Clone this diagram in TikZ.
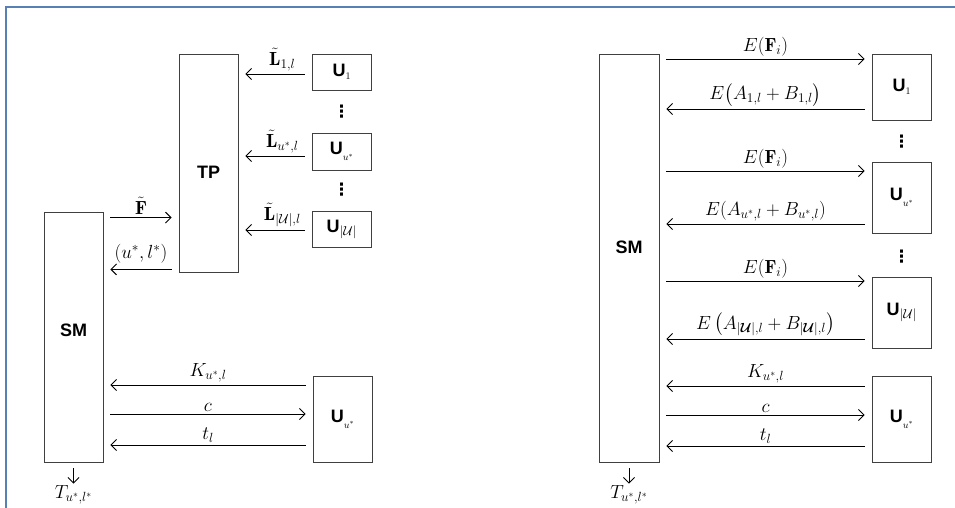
\RequirePackage{fix-cm}
\documentclass[tikz,border=0pt]{standalone}
\usepackage{amsmath,amssymb}
\usepackage{fontspec}
\newfontfamily\boxfont{Liberation Sans}
\newfontfamily\dotfont{DejaVu Sans}
\usetikzlibrary{arrows.meta}
\definecolor{framecol}{RGB}{88,128,178}
\newcommand{\boxlab}[1]{{\fontsize{18}{20}\selectfont\boxfont\bfseries #1}}
\newcommand{\ulab}[3][3pt]{\boxlab{U}\raisebox{-#1}{\fontsize{#3}{#3}\selectfont$#2$}}
\newcommand{\midlab}[2]{\raisebox{#1}[0pt][0pt]{\boxlab{#2}}}

\begin{document}
\begin{tikzpicture}[x=1pt, y=-1pt,
    box/.style={rectangle, draw=black!75, line width=0.8pt, minimum width=59pt, inner sep=0pt},
    arrow/.style={->, >={Straight Barb[length=5.5pt,width=11pt]}, line width=0.9pt, shorten >=7pt, shorten <=7pt},
    lbl/.style={font=\fontsize{19}{21}\selectfont, inner sep=1pt, above=1.5pt},
    dots/.style={font=\fontsize{17}{17}\selectfont\dotfont\bfseries, inner sep=0pt}
]
\useasboundingbox (0,0) rectangle (955,508);
\draw[framecol, line width=2pt] (6,508) -- (6,7) -- (955,7);

% left: with the TP
\node[box, minimum height=218pt] (tp) at (208.5,163) {\midlab{-15.5pt}{TP}};
\node[box, minimum height=36pt] (u1) at (341.5,72) {\ulab{1}{10}};
\node[dots] (dotsa) at (341.5,112) {⋮};
\node[box, minimum height=37pt] (us) at (341.5,151.5) {\ulab[6pt]{u^*}{10}};
\node[dots] (dotsb) at (341.5,190) {⋮};
\node[box, minimum height=36pt] (uu) at (341.5,229) {\ulab{|\mathcal{U}|}{13}};
\node[box, minimum height=250pt] (sm) at (73.5,337) {\midlab{0.5pt}{SM}};
\node[box, minimum height=86pt] (ub) at (342.5,419) {\ulab[6pt]{u^*}{10}};
\node[font=\fontsize{19}{21}\selectfont, inner sep=1pt] (t) at (73.5,495) {$T_{u^*,l^*}$};

\draw[arrow] ([yshift=-2pt]u1.west) -- ([yshift=-2pt]u1.west -| tp.east) node[lbl, pos=0.4] {$\tilde{\mathbf{L}}_{1,l}$};
\draw[arrow] ([yshift=-4.5pt]us.west) -- ([yshift=-4.5pt]us.west -| tp.east) node[lbl, pos=0.4] {$\tilde{\mathbf{L}}_{u^*,l}$};
\draw[arrow] ([yshift=-1pt]uu.west) -- ([yshift=-1pt]uu.west -| tp.east) node[lbl, pos=0.4] {$\tilde{\mathbf{L}}_{|\mathcal{U}|,l}$};
\draw[arrow] ([yshift=-6pt]sm.north east) -- ([yshift=-6pt]sm.north east -| tp.west) node[lbl, midway] {$\tilde{\mathbf{F}}$};
\draw[arrow] ([yshift=3pt]tp.south west) -- ([yshift=3pt]tp.south west -| sm.east) node[lbl, above=3pt, midway] {$(u^*,l^*)$};
\draw[arrow] ([yshift=34pt]ub.west) -- ([yshift=34pt]ub.west -| sm.east) node[lbl, midway] {$K_{u^*,l}$};
\draw[arrow] ([yshift=5pt]ub.west -| sm.east) -- ([yshift=5pt]ub.west) node[lbl, midway] {$c$};
\draw[arrow] ([yshift=-26pt]ub.west) -- ([yshift=-26pt]ub.west -| sm.east) node[lbl, midway] {$t_l$};
\draw[arrow, shorten <=6pt, shorten >=1pt] (sm.south) -- (t.north);

% right: without the TP
\node[box, minimum width=60pt, minimum height=408pt] (smr) at (629,258) {\midlab{4.5pt}{SM}};
\node[box, minimum height=66pt] (ur1) at (901.5,87) {\ulab{1}{10}};
\node[dots] (dotsc) at (901.5,142) {⋮};
\node[box, minimum height=71pt] (urs) at (901.5,197.5) {\ulab[6pt]{u^*}{10}};
\node[dots] (dotsd) at (901.5,257) {⋮};
\node[box, minimum height=71pt] (uru) at (901.5,312.5) {\ulab{|\mathcal{U}|}{13}};
\node[box, minimum height=86pt] (urb) at (901.5,419) {\ulab[6pt]{u^*}{10}};
\node[font=\fontsize{19}{21}\selectfont, inner sep=1pt] (tr) at (629,495) {$T_{u^*,l^*}$};

\draw[arrow] ([yshift=28pt]ur1.west -| smr.east) -- ([yshift=28pt]ur1.west) node[lbl, midway] {$E(\mathbf{F}_i)$};
\draw[arrow] ([yshift=-22pt]ur1.west) -- ([yshift=-22pt]ur1.west -| smr.east) node[lbl, midway] {$E\big(A_{1,l}+B_{1,l}\big)$};
\draw[arrow] ([yshift=26.5pt]urs.west -| smr.east) -- ([yshift=26.5pt]urs.west) node[lbl, midway] {$E(\mathbf{F}_i)$};
\draw[arrow] ([yshift=-26.5pt]urs.west) -- ([yshift=-26.5pt]urs.west -| smr.east) node[lbl, midway] {$E(A_{u^*,l}+B_{u^*,l})$};
\draw[arrow] ([yshift=31.5pt]uru.west -| smr.east) -- ([yshift=31.5pt]uru.west) node[lbl, midway] {$E(\mathbf{F}_i)$};
\draw[arrow] ([yshift=-26.5pt]uru.west) -- ([yshift=-26.5pt]uru.west -| smr.east) node[lbl, midway] {$E\left(A_{|\boldsymbol{\mathcal{U}}|,l}+B_{|\boldsymbol{\mathcal{U}}|,l}\right)$};
\draw[arrow] ([yshift=33pt]urb.west) -- ([yshift=33pt]urb.west -| smr.east) node[lbl, midway] {$K_{u^*,l}$};
\draw[arrow] ([yshift=4pt]urb.west -| smr.east) -- ([yshift=4pt]urb.west) node[lbl, midway] {$c$};
\draw[arrow] ([yshift=-27pt]urb.west) -- ([yshift=-27pt]urb.west -| smr.east) node[lbl, midway] {$t_l$};
\draw[arrow, shorten <=6pt, shorten >=1pt] (smr.south) -- (tr.north);
\end{tikzpicture}
\end{document}
